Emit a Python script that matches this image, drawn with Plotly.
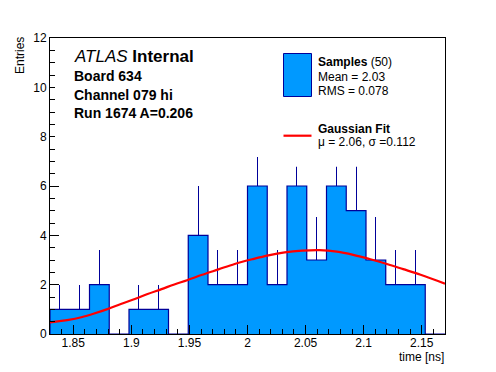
import numpy as np
import plotly.graph_objects as go

# ---- data ----
bin_low = 1.83
bin_width = 0.017
counts = [1, 1, 2, 0, 1, 1, 0, 4, 2, 2, 6, 2, 6, 3, 6, 5, 3, 2, 2, 0]

fit_x = [1.830, 1.846, 1.857, 1.868, 1.880, 1.891, 1.903, 1.914, 1.926, 1.937,
         1.948, 1.961, 1.975, 1.989, 2.004, 2.018, 2.032, 2.047, 2.062, 2.077,
         2.091, 2.105, 2.120, 2.134, 2.149, 2.170]
fit_y = [0.47, 0.57, 0.68, 0.83, 1.02, 1.22, 1.42, 1.62, 1.82, 2.01,
         2.18, 2.40, 2.62, 2.84, 3.03, 3.19, 3.31, 3.38, 3.40, 3.34,
         3.21, 3.04, 2.84, 2.63, 2.40, 2.04]

x_tickvals = [1.85, 1.9, 1.95, 2.0, 2.05, 2.1, 2.15]
x_ticktext = ["1.85", "1.9", "1.95", "2", "2.05", "2.1", "2.15"]
y_tickvals = [0, 2, 4, 6, 8, 10, 12]
y_ticktext = ["0", "2", "4", "6", "8", "10", "12"]

n_bins = len(counts)
edges = [bin_low + bin_width * i for i in range(n_bins + 1)]
centers = [bin_low + bin_width * (i + 0.5) for i in range(n_bins)]
errors = list(np.sqrt(counts))

FILL = "rgb(0,153,255)"
EDGE = "rgb(0,0,153)"
FONT = "Liberation Sans"

fig = go.Figure()

fig.add_trace(go.Bar(
    x=centers, y=counts, width=bin_width,
    marker=dict(color=FILL, line=dict(width=0)),
    error_y=dict(type="data", symmetric=False, array=errors,
                 arrayminus=[0] * n_bins, color=EDGE, thickness=1, width=0),
    showlegend=False, hoverinfo="skip",
))

step_x = [edges[0]] + edges
step_y = [0] + counts + [counts[-1]]
fig.add_trace(go.Scatter(
    x=step_x, y=step_y, mode="lines", line=dict(color=EDGE, width=1.2, shape="hv"),
    showlegend=False, hoverinfo="skip",
))

fig.add_trace(go.Scatter(
    x=fit_x, y=fit_y, mode="lines", line=dict(color="rgb(255,0,0)", width=2.2, shape="spline"),
    showlegend=False, hoverinfo="skip",
))

# plot area geometry in pixels
L, R, T, B = 50, 445, 38, 334
W, H = R - L, B - T


def px(xp):
    return (xp - L) / W


def py(yp):
    return (B - yp) / H


shapes = [
    # label box background (left)
    dict(type="rect", xref="paper", yref="paper", x0=px(55), x1=px(264), y0=py(157), y1=py(40),
         fillcolor="white", line=dict(width=0), layer="above"),
    # legend background
    dict(type="rect", xref="paper", yref="paper", x0=px(270), x1=px(440), y0=py(166.7), y1=py(40),
         fillcolor="white", line=dict(width=0), layer="above"),
    # legend swatch: samples
    dict(type="rect", xref="paper", yref="paper", x0=px(283.5), x1=px(311.5), y0=py(96.5), y1=py(53.5),
         fillcolor=FILL, line=dict(color=EDGE, width=1), layer="above"),
    # legend swatch: fit
    dict(type="line", xref="paper", yref="paper", x0=px(283.5), x1=px(311.5), y0=py(135.7), y1=py(135.7),
         line=dict(color="rgb(255,0,0)", width=2.2), layer="above"),
]

def ann(text, xp, yp, size, xanchor="left", **kw):
    return dict(text=text, xref="paper", yref="paper", x=px(xp), y=py(yp),
                xanchor=xanchor, yanchor="middle", showarrow=False,
                font=dict(family=FONT, size=size, color="black"), **kw)

annotations = [
    ann("<i>ATLAS</i> <b>Internal</b>", 72, 57, 17),
    ann("<b>Board 634</b>", 72, 76, 14),
    ann("<b>Channel 079 hi</b>", 72, 94.7, 14),
    ann("<b>Run 1674 A=0.206</b>", 72, 112.7, 14),
    ann("<b>Samples</b> (50)", 316, 61.7, 12),
    ann("Mean = 2.03", 316, 76.7, 12),
    ann("RMS = 0.078", 316, 90.5, 12),
    ann("<b>Gaussian Fit</b>", 316, 129.3, 12),
    ann("μ = 2.06, σ =0.112", 316, 142, 12),
    ann("time [ns]", 446, 357, 12, xanchor="right"),
    dict(text="Entries", xref="paper", yref="paper", x=px(20), y=py(56),
         xanchor="center", yanchor="middle", showarrow=False, textangle=-90,
         font=dict(family=FONT, size=12, color="black")),
]

fig.update_layout(
    width=496, height=372,
    margin=dict(l=L, r=496 - R, t=T, b=372 - B, pad=0),
    paper_bgcolor="white", plot_bgcolor="white",
    bargap=0, showlegend=False,
    font=dict(family=FONT, size=12, color="black"),
    shapes=shapes, annotations=annotations,
    xaxis=dict(range=[edges[0], edges[-1]], showgrid=False, zeroline=False,
               showline=True, linecolor="black", linewidth=1, mirror=True,
               tickmode="array", tickvals=x_tickvals, ticktext=x_ticktext,
               ticks="inside", ticklen=9, tickwidth=1, tickcolor="black",
               minor=dict(tickmode="linear", tick0=1.8, dtick=0.01, ticks="inside",
                          ticklen=5, tickwidth=1, tickcolor="black", showgrid=False),
               tickfont=dict(family=FONT, size=12, color="black"), automargin=False,
               ticklabelstandoff=-2),
    yaxis=dict(range=[0, 12], showgrid=False, zeroline=False,
               showline=True, linecolor="black", linewidth=1, mirror=True,
               tickmode="array", tickvals=y_tickvals, ticktext=y_ticktext,
               ticks="inside", ticklen=9, tickwidth=1, tickcolor="black",
               minor=dict(tickmode="linear", tick0=0, dtick=0.5, ticks="inside",
                          ticklen=5, tickwidth=1, tickcolor="black", showgrid=False),
               tickfont=dict(family=FONT, size=12, color="black"), automargin=False),
)

fig.write_html("out.html", config={"displayModeBar": False},
               post_script="document.body.style.margin='0';document.body.style.overflow='hidden';")
